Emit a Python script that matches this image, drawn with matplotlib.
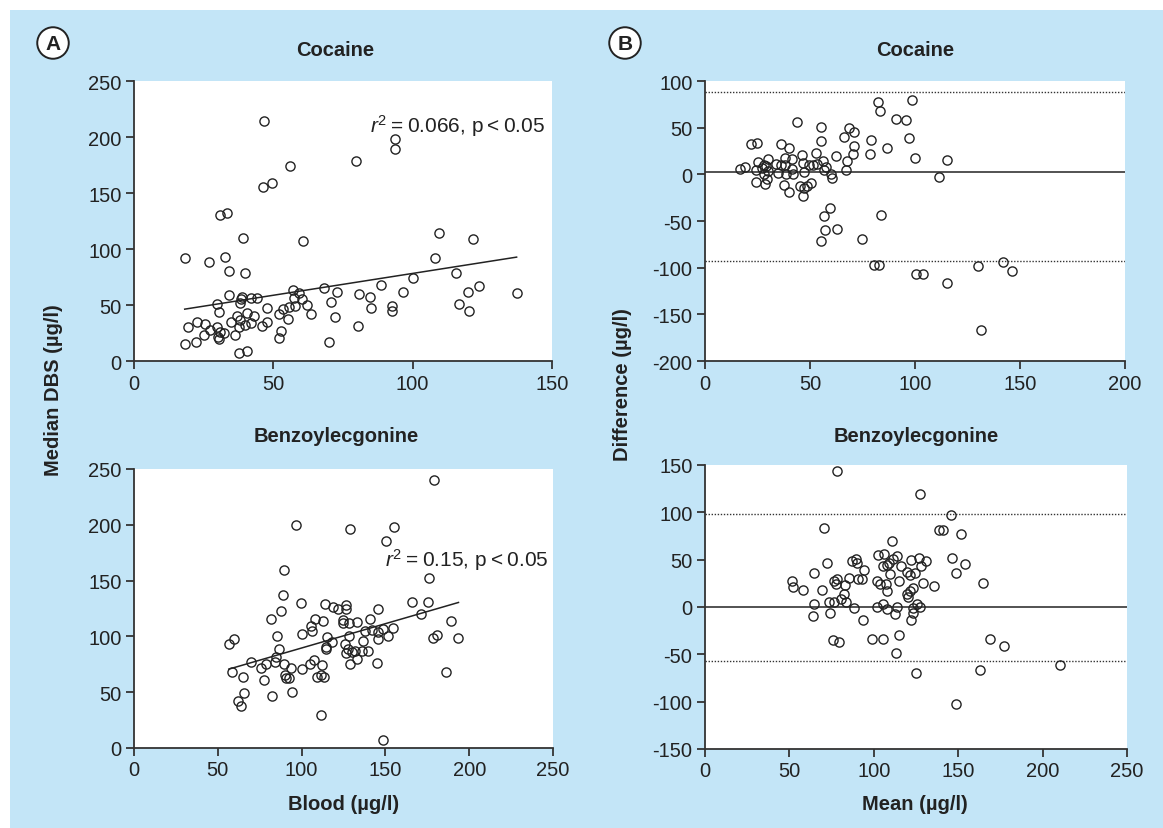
import numpy as np
import matplotlib
matplotlib.use("Agg")
import matplotlib.pyplot as plt
from matplotlib.patches import Rectangle

plt.rcParams['font.family'] = ['Liberation Sans', 'DejaVu Sans']
plt.rcParams['mathtext.fontset'] = 'custom'
plt.rcParams['mathtext.rm'] = 'Liberation Sans'
plt.rcParams['mathtext.it'] = 'Liberation Sans:italic'
plt.rcParams['axes.unicode_minus'] = False

# Cocaine: blood vs median DBS
coc_blood = [46.7, 93.5, 93.5, 79.7, 56.0, 46.2, 49.5, 30.7, 33.3, 39.2,
             60.8, 18.4, 26.8, 32.8, 34.0, 40.0, 109.3, 121.8, 107.9, 115.6,
             123.7, 119.9, 137.3, 116.5, 120.3, 100.2, 96.6, 88.8, 80.9, 84.7,
             85.2, 92.6, 92.6, 80.3, 72.2, 70.8, 72.7, 68.2, 70.1, 57.2,
             59.1, 57.4, 60.3, 62.2, 63.4, 57.7, 55.5, 53.3, 51.9, 55.3,
             52.9, 51.9, 47.8, 47.8, 45.9, 44.0, 41.9, 38.8, 38.3, 38.0,
             34.0, 29.9, 30.6, 40.4, 43.1, 36.8, 38.0, 34.7, 41.9, 39.9,
             37.6, 36.1, 19.4, 22.5, 25.6, 27.3, 25.1, 29.9, 30.9, 32.3,
             30.1, 30.6, 18.2, 22.3, 37.8, 40.4]
coc_dbs = [214.6, 198, 189, 179, 174, 155, 159, 130, 132, 110,
           107, 92, 88, 93, 80, 79, 114, 109, 92, 79,
           67, 62, 61, 51, 45, 74, 62, 68, 60, 57,
           47, 49, 45, 31, 39, 53, 62, 65, 17, 63,
           61, 56, 55, 50, 42, 49, 48, 46, 42, 37.5,
           27, 20.5, 47, 34.5, 31, 56, 56.5, 57, 55, 52,
           59, 51, 44, 43, 40, 40, 37, 35, 34, 32,
           30, 23, 30, 34.5, 33, 28, 23.5, 30.7, 25.6, 24.7,
           21, 19.6, 15, 16.7, 7, 9]
coc_fit = (0.39, 39.2)  # slope, intercept

# Cocaine: Bland-Altman
coc_mean = [98.8, 82.5, 83.5, 91.1, 95.6, 97.1, 100.2, 115.1, 111.6, 86.9,
            78.9, 78.7, 43.7, 55.4, 55.4, 68.6, 70.8, 66.0, 70.9, 70.6,
            67.5, 67.0, 62.4, 52.9, 56.4, 57.6, 56.7, 59.9, 60.3, 53.2,
            51.3, 49.4, 46.2, 46.9, 47.3, 50.4, 48.8, 47.2, 45.3, 46.6,
            41.5, 41.5, 41.8, 40.2, 36.1, 38.3, 38.3, 38.6, 36.4, 34.8,
            37.4, 40.2, 33.6, 29.8, 29.1, 27.9, 25.3, 24.1, 27.9, 29.5,
            28.5, 24.4, 27.2, 21.9, 24.7, 16.5, 19.0, 59.5, 56.7, 57.3,
            62.7, 55.4, 74.9, 83.9, 80.4, 82.8, 100.7, 103.9, 115.1, 130.0,
            142.0, 146.3, 131.3, 30.2]
coc_diff = [79.4, 78, 67.4, 59.2, 57.8, 38.7, 17, 15.2, -3.2, 27.7,
            36.9, 22.3, 56, 51, 35.5, 49.6, 45.4, 39.7, 30.1, 22.3,
            13.8, 5, 19.5, 23, 14.2, 7.8, 4.3, 0.7, -3.9, 10.6,
            10.3, 9.6, 20.6, 12, 2.5, -9.6, -12.4, -14.9, -12.8, -23,
            16.3, 5.3, 0, 27.7, 32.6, 17.7, 9.9, 0, 9.9, 1.4,
            -11.3, -19.1, 10.6, 16, 8.5, 9.9, 13.5, 4.6, 0.7, -4.6,
            -9.9, -8.5, 7, 32.6, 33.3, 6, 7.8, -35.8, -44.7, -59.6,
            -58.5, -70.9, -69.5, -44, -97.2, -96.8, -106.7, -106.7, -116, -97.9,
            -94.3, -103.2, -166.7, 3.5]
coc_limits = (88.7, 2.1, -92.5)  # upper LoA, bias, lower LoA

# Benzoylecgonine: blood vs median DBS
bze_blood = [179, 96.9, 128.8, 155.3, 150.5, 89.3, 176.2, 88.9, 99.9, 114.0,
             118.8, 121.6, 126.4, 126.4, 165.9, 175.6, 171.3, 145.7, 87.5, 81.7,
             107.7, 112.8, 124.8, 124.8, 128.2, 132.8, 141.1, 189, 105.9, 106.1,
             100.5, 85.1, 115.4, 128.2, 137.6, 142, 145.7, 148.7, 154.7, 151.3,
             145.5, 178.2, 180.6, 193.6, 136.8, 118.4, 114.8, 114.8, 126, 126.4,
             127.8, 130, 132, 136, 139.6, 133.2, 129, 144.7, 56.6, 59.8,
             86.5, 85, 84.1, 89.3, 93.5, 69.8, 75.8, 78.5, 58.2, 65,
             77.4, 90.1, 90.9, 92.5, 100.3, 104.9, 107.3, 112.4, 111.4, 109.4,
             113.4, 65.8, 94.5, 82.1, 61.8, 63.8, 111.4, 148.7, 186.2]
bze_dbs = [240, 199.4, 195.8, 197.6, 185.4, 159.5, 152.7, 136.9, 130, 128.9,
           126.5, 124.4, 127.7, 124.4, 131, 130.4, 120.5, 124.4, 123.2, 116,
           116, 114, 114.6, 112.2, 112.2, 113.1, 116, 113.7, 109.2, 104.5,
           101.8, 100.3, 99.4, 100.6, 104.8, 105.7, 104.2, 106.5, 107.7, 100.6,
           97.9, 98.2, 101.2, 98.2, 95.8, 95.2, 90.5, 88.7, 92.9, 84.8,
           88.4, 86.3, 86.9, 86.9, 86.9, 79.8, 75.3, 75.9, 93.2, 97.3,
           88.4, 81.8, 76.8, 75.3, 71.4, 77.1, 71.4, 75, 68.5, 63.4,
           61.3, 65.5, 62.5, 62.5, 70.5, 75.3, 78.9, 74.4, 65.5, 63.4,
           64, 49.1, 50, 46.7, 42.3, 37.5, 29.2, 7.1, 68.2]
bze_fit = (0.436, 46.0)

# Benzoylecgonine: Bland-Altman
bze_mean = [78.2, 127.5, 145.8, 70.6, 138.4, 140.9, 151.7, 110.7, 146.2, 153.8,
            148.7, 164.5, 102.7, 106.2, 113.5, 111.3, 109.2, 107.6, 105.3, 116,
            122.2, 126.5, 131.2, 127.7, 124.6, 119.9, 121.3, 109.7, 115, 129,
            135.5, 123.2, 121.3, 119.7, 120.5, 101.6, 103.5, 107.4, 107.6, 89.5,
            86.9, 89.8, 94, 92.8, 90.6, 85.6, 83.2, 78.4, 76.4, 77.6,
            72.5, 64.3, 51.3, 52.2, 57.9, 69.6, 82.5, 80.3, 83.8, 76.2,
            73.7, 64.5, 88.1, 63.7, 73.9, 93.6, 101.8, 105.7, 107.6, 114,
            112.7, 123.4, 125.7, 127.5, 123, 121.8, 75.6, 79.1, 99.2, 105.5,
            115, 113.3, 124.8, 168.6, 177.4, 162.8, 210.3, 148.7]
bze_diff = [143.5, 119.8, 97.5, 83.7, 81.3, 80.9, 77.4, 70, 51.9, 45.6,
            36, 25.1, 55.1, 55.8, 54.1, 50.9, 47, 44.5, 43.8, 42.8,
            49.5, 51.6, 48.1, 43.1, 36.4, 37.5, 33.9, 34.6, 27.9, 25.8,
            22.3, 20.5, 17.3, 13.8, 11, 27.9, 24.4, 24.4, 17.3, 50.9,
            48.1, 46.3, 39.6, 30, 30, 30.7, 23.3, 30, 27.6, 24.4,
            46.3, 36.4, 27.6, 21.2, 18, 17.7, 13.8, 8.8, 4.9, 5.3,
            5.3, 2.8, -1.4, -9.2, -6.4, -13.8, -0.4, 3.2, -2.5, 0,
            -7.4, -0.7, 3.2, 0, -6, -14.1, -35.3, -36.7, -34.3, -34.3,
            -29.3, -48.1, -69.6, -33.9, -41.7, -66.8, -61.5, -102.1]
bze_limits = (98.0, 0.0, -57.5)

W, H = 1163, 829
INK = '#222222'
BLUE = '#c3e5f7'

fig = plt.figure(figsize=(W / 100, H / 100), dpi=100)
fig.patch.set_facecolor('white')
fig.add_artist(Rectangle((10 / W, 0), 1, 1 - 11 / H, transform=fig.transFigure,
                         facecolor=BLUE, edgecolor='none', zorder=-10))


def px_axes(l, t, r, b):
    return fig.add_axes([l / W, 1 - b / H, (r - l) / W, (b - t) / H])


def style(ax, xlim, ylim, xticks, yticks):
    ax.set_facecolor('white')
    ax.set_xlim(*xlim)
    ax.set_ylim(*ylim)
    ax.set_xticks(xticks)
    ax.set_yticks(yticks)
    for s in ['top', 'right']:
        ax.spines[s].set_visible(False)
    for s in ['left', 'bottom']:
        ax.spines[s].set_color('#333333')
        ax.spines[s].set_linewidth(1.3)
    ax.tick_params(direction='out', length=6, width=1.3, color='#333333',
                   labelsize=14.5, labelcolor=INK, pad=3)


def scatter(ax, x, y):
    ax.plot(x, y, 'o', ms=6.6, mfc='none', mec=INK, mew=1.0, clip_on=False, zorder=3)


def fit_line(ax, x, fit):
    xs = np.array([min(x), max(x)])
    ax.plot(xs, fit[0] * xs + fit[1], color=INK, lw=1.1, zorder=2)


def ba_lines(ax, limits):
    up, bias, lo = limits
    ax.axhline(up, color='#333333', lw=1.0, ls=(0, (1, 1.2)))
    ax.axhline(lo, color='#333333', lw=1.0, ls=(0, (1, 1.2)))
    ax.axhline(bias, color='#444444', lw=1.3)


ts = '\u2009'
ax1 = px_axes(134, 82, 552, 362)
style(ax1, (0, 150), (0, 250), [0, 50, 100, 150], range(0, 251, 50))
fit_line(ax1, coc_blood, coc_fit)
scatter(ax1, coc_blood, coc_dbs)
ax1.text(147.5, 211, r'$r^2$' + ts + '=' + ts + '0.066, p' + ts + '<' + ts + '0.05',
         ha='right', va='center', fontsize=15, color=INK)

ax2 = px_axes(705, 82, 1125, 362)
style(ax2, (0, 200), (-200, 100), [0, 50, 100, 150, 200], range(-200, 101, 50))
ba_lines(ax2, coc_limits)
scatter(ax2, coc_mean, coc_diff)

ax3 = px_axes(134, 470, 553, 749)
style(ax3, (0, 250), (0, 250), range(0, 251, 50), range(0, 251, 50))
fit_line(ax3, bze_blood, bze_fit)
scatter(ax3, bze_blood, bze_dbs)
ax3.text(247, 169, r'$r^2$' + ts + '=' + ts + '0.15, p' + ts + '<' + ts + '0.05',
         ha='right', va='center', fontsize=15, color=INK)

ax4 = px_axes(705, 466, 1127, 750)
style(ax4, (0, 250), (-150, 150), range(0, 251, 50), range(-150, 151, 50))
ba_lines(ax4, bze_limits)
scatter(ax4, bze_mean, bze_diff)

# titles and labels
bold = dict(fontsize=14.5, fontweight='bold', color=INK, ha='center', va='center')
fig.text(335 / W, 1 - 51 / H, 'Cocaine', **bold)
fig.text(915 / W, 1 - 51 / H, 'Cocaine', **bold)
fig.text(336 / W, 1 - 437 / H, 'Benzoylecgonine', **bold)
fig.text(916 / W, 1 - 437 / H, 'Benzoylecgonine', **bold)
fig.text(54 / W, 1 - 390 / H, 'Median DBS (µg/l)', rotation=90, **bold)
fig.text(622 / W, 1 - 385 / H, 'Difference (µg/l)', rotation=90, **bold)
fig.text(344 / W, 1 - 805 / H, 'Blood (µg/l)', **bold)
fig.text(915 / W, 1 - 805 / H, 'Mean (µg/l)', **bold)

circ = dict(boxstyle='circle,pad=0.3', fc='white', ec=INK, lw=1.4)
fig.text(53 / W, 1 - 44 / H, 'A', fontsize=15, fontweight='bold', color=INK,
         ha='center', va='center', bbox=circ)
fig.text(625 / W, 1 - 44 / H, 'B', fontsize=15, fontweight='bold', color=INK,
         ha='center', va='center', bbox=circ)

fig.savefig('out.png', dpi=100, facecolor=fig.get_facecolor())
